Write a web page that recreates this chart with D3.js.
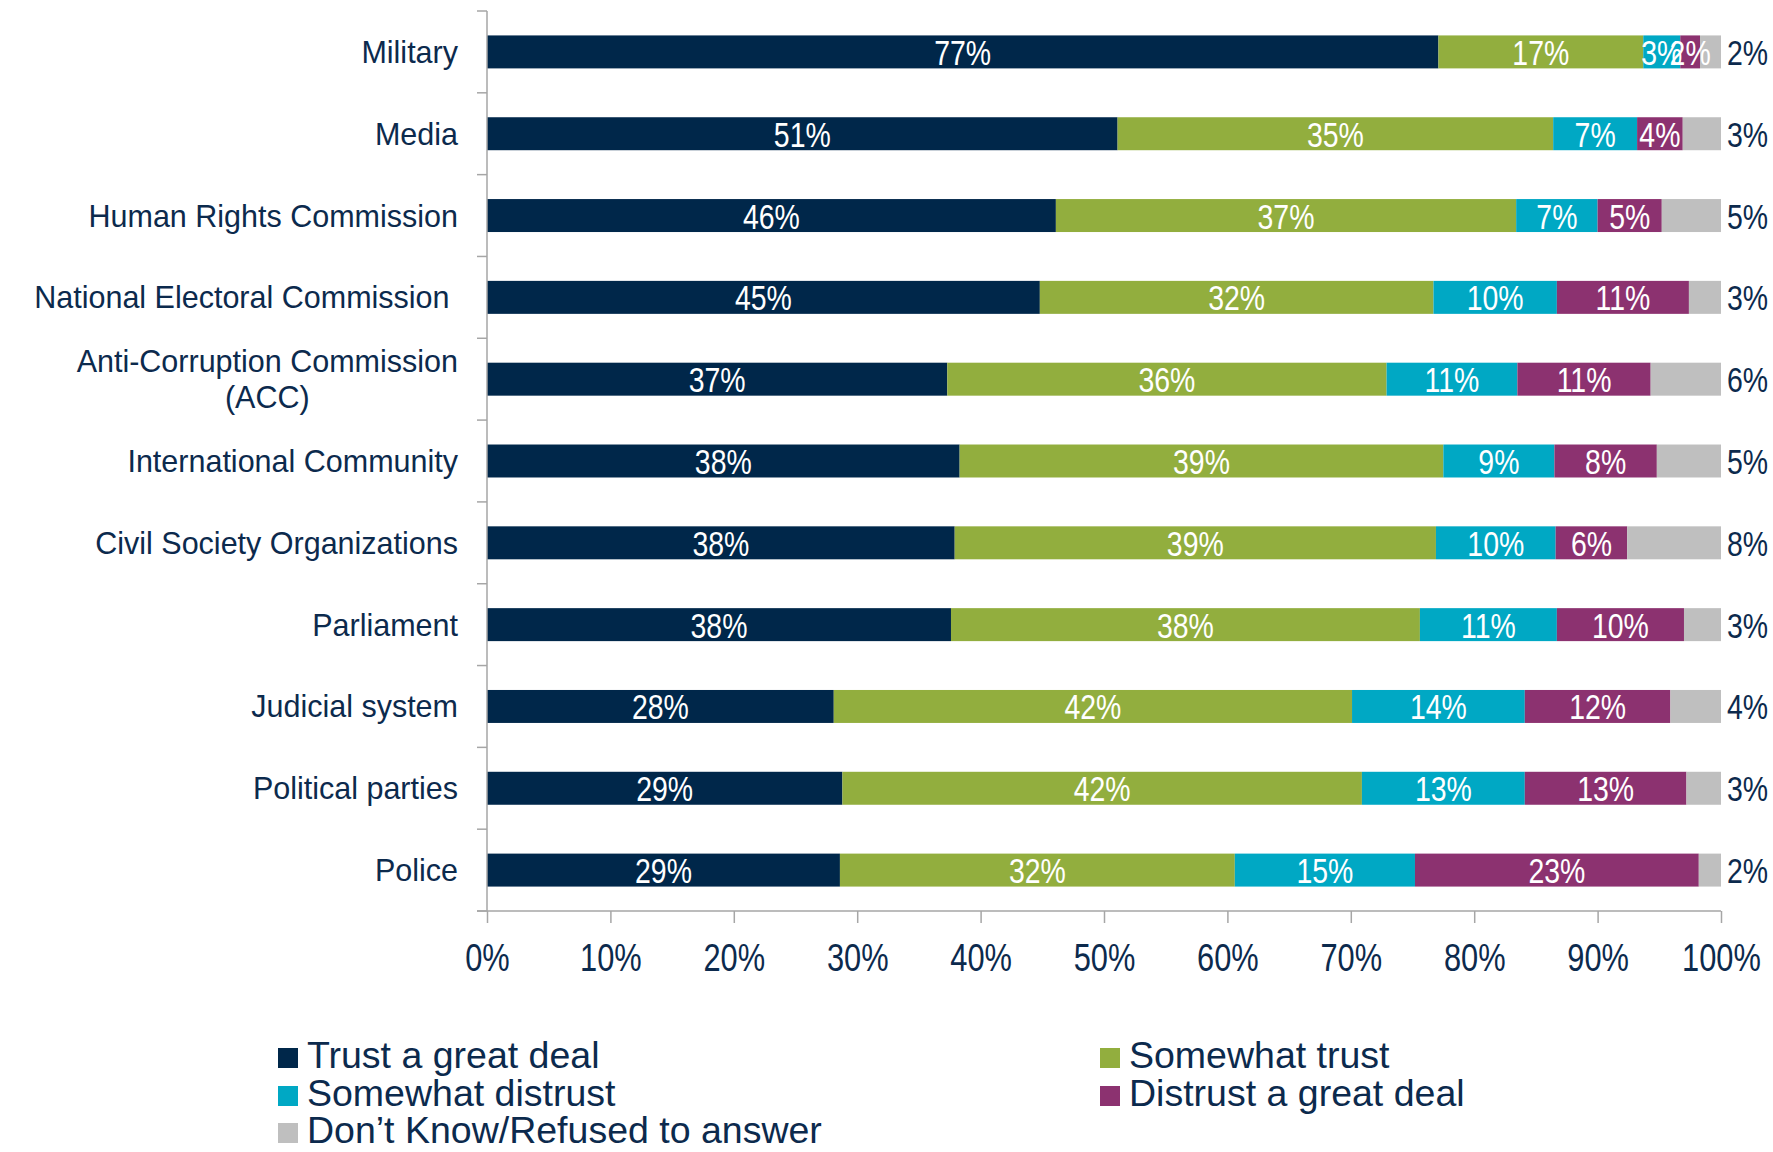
<!DOCTYPE html>
<html>
<head>
<meta charset="utf-8">
<script src="https://cdn.jsdelivr.net/npm/d3@7"></script>
<style>
	body { margin: 0; background: #fff; }
	svg text { white-space: pre; }
	.cat { font-family: "Liberation Sans", Arial, sans-serif; font-size: 30.5px; fill: #0c2a4d; }
	.num { font-family: "Liberation Sans", Arial, sans-serif; font-size: 36px; }
	.tick text { font-family: "Liberation Sans", Arial, sans-serif; font-size: 39px; fill: #0c2a4d; }
	.legend text { font-family: "Liberation Sans", Arial, sans-serif; font-size: 37.5px; fill: #0c2a4d; }
</style>
</head>
<body>
<div id="chart"></div>
<script>

var categories = ["Military", "Media", "Human Rights Commission", "National Electoral Commission ",
	"Anti-Corruption Commission\n(ACC)", "International Community", "Civil Society Organizations",
	"Parliament", "Judicial system", "Political parties", "Police"];

var seriesNames = ["Trust a great deal", "Somewhat trust", "Somewhat distrust", "Distrust a great deal", "Don\u2019t Know/Refused to answer"];

var trustGreat       = [77.1, 51.1, 46.1, 44.8, 37.3, 38.3, 37.9, 37.6, 28.1, 28.8, 28.6];
var somewhatTrust    = [16.6, 35.3, 37.3, 31.9, 35.6, 39.2, 39.0, 38.0, 42.0, 42.1, 32.0];
var somewhatDistrust = [ 3.0,  6.8,  6.6, 10.0, 10.6,  9.0,  9.7, 11.1, 14.0, 13.2, 14.6];
var distrustGreat    = [ 1.6,  3.7,  5.2, 10.7, 10.8,  8.3,  5.8, 10.3, 11.8, 13.1, 23.0];
var dontKnow         = [ 1.7,  3.1,  4.8,  2.6,  5.7,  5.2,  7.6,  3.0,  4.1,  2.8,  1.8];

var xTicks = [0, 10, 20, 30, 40, 50, 60, 70, 80, 90, 100];

var colors = ["#00274a", "#92ae3e", "#00a8c4", "#8c3270", "#bfbfbf"];

var chart = {
	width: 1773,
	height: 1152,
	left: 487,
	right: 1721,
	top: 11,
	bottom: 911,
	narrow: 0.79 // squeeze the numbers, the original font is condensed
};

var rows = categories.map(function (c, i) {
	return {
		category: c,
		s0: trustGreat[i],
		s1: somewhatTrust[i],
		s2: somewhatDistrust[i],
		s3: distrustGreat[i],
		s4: dontKnow[i]
	};
});
var keys = ["s0", "s1", "s2", "s3", "s4"];

var svg = d3.select('#chart')
	.append('svg')
	.attr('width', chart.width)
	.attr('height', chart.height);

var xScale = d3.scaleLinear()
	.domain([0, 100])
	.range([chart.left, chart.right]);

var yScale = d3.scaleBand()
	.domain(categories)
	.range([chart.top, chart.bottom])
	.paddingInner(0.597)
	.paddingOuter(0.2985);

var stacked = d3.stack().keys(keys)(rows);

function squeeze(x, y) {
	return 'translate(' + x + ',' + y + ') scale(' + chart.narrow + ',1)';
}

// bars
var layers = svg.append('g')
	.selectAll('g')
	.data(stacked)
	.enter().append('g')
	.attr('fill', function (d, i) { return colors[i]; });

layers.selectAll('rect')
	.data(function (d) { return d; })
	.enter().append('rect')
	.attr('x', function (d) { return xScale(d[0]); })
	.attr('y', function (d) { return yScale(d.data.category); })
	.attr('width', function (d) { return xScale(d[1]) - xScale(d[0]); })
	.attr('height', yScale.bandwidth());

// labels inside the bars (not for the grey segment)
stacked.slice(0, 4).forEach(function (layer) {
	svg.append('g').selectAll('text')
		.data(layer)
		.enter().append('text')
		.attr('class', 'num')
		.attr('fill', '#fff')
		.attr('text-anchor', 'middle')
		.attr('dy', '0.36em')
		.text(function (d) { return Math.round(d[1] - d[0]) + '%'; })
		.attr('transform', function (d) {
			var half = this.getComputedTextLength() * chart.narrow / 2;
			var mid = (xScale(d[0]) + xScale(d[1])) / 2;
			var cy = yScale(d.data.category) + yScale.bandwidth() / 2;
			return squeeze(Math.min(mid, xScale(100) - half + 2), cy);
		});
});

// don't know values to the right
svg.append('g').selectAll('text')
	.data(rows)
	.enter().append('text')
	.attr('class', 'num')
	.attr('fill', '#0c2a4d')
	.attr('dy', '0.36em')
	.attr('transform', function (d) {
		return squeeze(xScale(100) + 6, yScale(d.category) + yScale.bandwidth() / 2);
	})
	.text(function (d) { return Math.round(d.s4) + '%'; });

// axes
var axisColor = '#a6a6a6';

var xAxis = d3.axisBottom(xScale)
	.tickValues(xTicks)
	.tickSize(12)
	.tickPadding(20)
	.tickFormat(function (d) { return d + '%'; });

var gx = svg.append('g')
	.attr('transform', 'translate(0,' + chart.bottom + ')')
	.call(xAxis);
gx.select('.domain').remove();
gx.selectAll('line').attr('stroke', axisColor).attr('stroke-width', 1.5);
gx.selectAll('text').attr('transform', 'scale(' + chart.narrow + ',1)');
gx.append('line')
	.attr('x1', chart.left - 10)
	.attr('x2', chart.right)
	.attr('stroke', axisColor)
	.attr('stroke-width', 1.5);

var gy = svg.append('g');
gy.append('line')
	.attr('x1', chart.left).attr('x2', chart.left)
	.attr('y1', chart.top).attr('y2', chart.bottom)
	.attr('stroke', axisColor)
	.attr('stroke-width', 1.5);

var step = yScale.step();
gy.selectAll('.ytick')
	.data(d3.range(categories.length + 1))
	.enter().append('line')
	.attr('x1', chart.left - 10).attr('x2', chart.left)
	.attr('y1', function (i) { return chart.top + i * step; })
	.attr('y2', function (i) { return chart.top + i * step; })
	.attr('stroke', axisColor)
	.attr('stroke-width', 1.5);

// category labels
var labelRight = chart.left - 29;
categories.forEach(function (c) {
	var lines = c.split('\n');
	var cy = yScale(c) + yScale.bandwidth() / 2;
	var lineH = 36;
	var base = cy + 11 - (lines.length - 1) * lineH / 2;
	var first = svg.append('text')
		.attr('class', 'cat')
		.attr('x', labelRight)
		.attr('y', base)
		.attr('text-anchor', 'end')
		.text(lines[0]);
	var w = first.node().getComputedTextLength();
	lines.slice(1).forEach(function (l, k) {
		svg.append('text')
			.attr('class', 'cat')
			.attr('x', labelRight - w / 2)
			.attr('y', base + (k + 1) * lineH)
			.attr('text-anchor', 'middle')
			.text(l);
	});
});

// legend
var legendPos = [[278, 1058], [1100, 1058], [278, 1096], [1100, 1096], [278, 1133]];
var legend = svg.append('g').attr('class', 'legend');
seriesNames.forEach(function (name, i) {
	var p = legendPos[i];
	legend.append('rect')
		.attr('x', p[0])
		.attr('y', p[1] - 10)
		.attr('width', 20)
		.attr('height', 20)
		.attr('fill', colors[i]);
	legend.append('text')
		.attr('x', p[0] + 29)
		.attr('y', p[1] + 10)
		.text(name);
});

</script>
</body>
</html>
